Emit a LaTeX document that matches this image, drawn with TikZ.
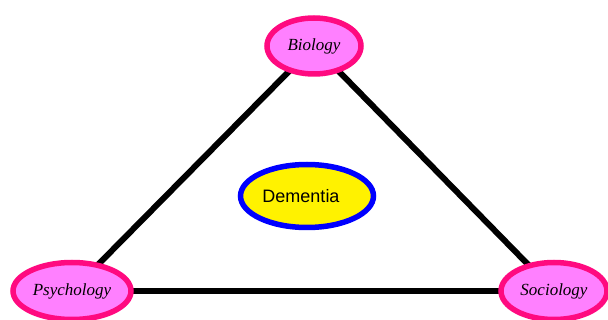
\documentclass[tikz,border=0pt]{standalone}
\usepackage{fontspec}
\setmainfont{Liberation Serif}
\newfontfamily\arialfont{Liberation Sans}
\usetikzlibrary{shapes.geometric,backgrounds}
\definecolor{pinkfill}{HTML}{FF80FF}
\definecolor{pinkdraw}{HTML}{FF0A80}
\begin{document}
\begin{tikzpicture}[x=1pt,y=-1pt,
  discipline/.style={ellipse,draw=pinkdraw,fill=pinkfill,line width=5.5pt,inner sep=0pt,font=\fontsize{17}{19}\selectfont\itshape},
  centre/.style={ellipse,draw=blue,fill=yellow,line width=5.5pt,inner sep=0pt,font=\arialfont\fontsize{18}{20}\selectfont},
  link/.style={line width=6pt,black}]
\useasboundingbox (0,0) rectangle (608,320);
\node[discipline,minimum width=94pt,minimum height=56pt] (bio) at (314,46) {Biology};
\node[discipline,minimum width=118pt,minimum height=57pt] (psy) at (72,291) {Psychology};
\node[discipline,minimum width=106pt,minimum height=57pt] (soc) at (554,291) {Sociology};
\node[centre,minimum width=133pt,minimum height=63pt] (dem) at (307,196) {\hspace{-12pt}Dementia};
\begin{scope}[on background layer]
\draw[link] (bio.center) -- (psy.center);
\draw[link] (bio.center) -- (soc.center);
\draw[link] (psy.center) -- (soc.center);
\end{scope}
\end{tikzpicture}
\end{document}
